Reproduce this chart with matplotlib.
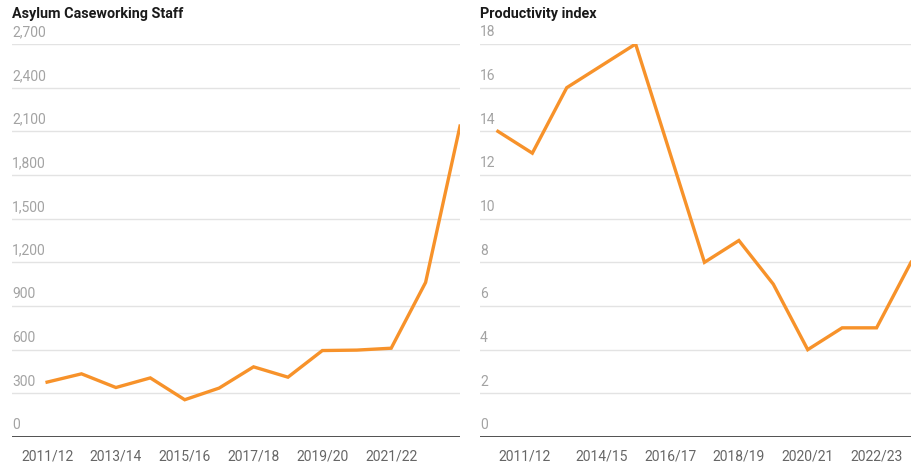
import matplotlib.pyplot as plt

plt.rcParams['font.family'] = ['Roboto', 'DejaVu Sans']

years = ['2011/12', '2012/13', '2013/14', '2014/15', '2015/16', '2016/17', '2017/18',
         '2018/19', '2019/20', '2020/21', '2021/22', '2022/23', '2023/24']
staff = [377, 434, 340, 406, 256, 336, 482, 411, 594, 597, 610, 1062, 2136]
productivity = [14, 13, 16, 17, 18, 13, 8, 9, 7, 4, 5, 5, 8]

staff_ticks = [0, 300, 600, 900, 1200, 1500, 1800, 2100, 2400, 2700]
prod_ticks = [0, 2, 4, 6, 8, 10, 12, 14, 16, 18]
staff_xticks = [0, 2, 4, 6, 8, 10]
prod_xticks = [0, 3, 5, 7, 9, 11]

orange = '#f7922a'

fig = plt.figure(figsize=(9.2, 4.64), dpi=100)
ax1 = fig.add_axes([12/920, 26/464, 448/920, 393/464])
ax2 = fig.add_axes([480/920, 26/464, 431/920, 393/464])


def style(ax, yticks, ylabels, xticks, xlim, title):
    ax.set_ylim(0, yticks[-1])
    ax.set_xlim(*xlim)
    for s in ax.spines.values():
        s.set_visible(False)
    ax.set_yticks([])
    for v, lab in zip(yticks, ylabels):
        if v > 0:
            ax.axhline(v, color='#e3e3e3', lw=1, zorder=0)
        ax.annotate(lab, (0, v), xycoords=('axes fraction', 'data'),
                    xytext=(0, 4), textcoords='offset points',
                    ha='left', va='bottom', color='#a3a3a3', fontsize=10)
    ax.axhline(0, color='#333333', lw=1.2, zorder=1)
    ax.set_xticks(xticks)
    ax.set_xticklabels([years[i] for i in xticks], color='#666666', fontsize=10)
    ax.tick_params(axis='x', length=0, pad=8)
    ax.text(0, 1.06, title, transform=ax.transAxes, fontsize=10.4, fontweight='bold',
            color='#1a1a1a', ha='left', va='bottom')


x = list(range(len(years)))

ax1.plot(x, staff, color=orange, lw=2.4, solid_joinstyle='miter', zorder=3)
style(ax1, staff_ticks, [f'{v:,}' for v in staff_ticks], staff_xticks,
      (-1.02, 12), 'Asylum Caseworking Staff')

ax2.plot(x, productivity, color=orange, lw=2.4, solid_joinstyle='miter', zorder=3)
style(ax2, prod_ticks, [str(v) for v in prod_ticks], prod_xticks,
      (-0.52, 12), 'Productivity index')
ax2.get_xticklabels()[0].set_ha('left')

fig.savefig('out.png', dpi=100)
